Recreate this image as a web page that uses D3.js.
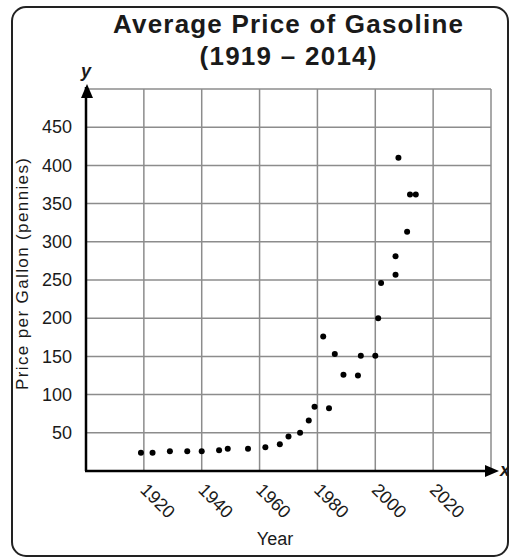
<!DOCTYPE html>
<html>
<head>
<meta charset="utf-8">
<script src="https://cdn.jsdelivr.net/npm/d3@7"></script>
<style>
  body { margin: 0; background: #fff; }
  text { font-family: "Liberation Sans", Arial, sans-serif; fill: #1a1a1a; }
</style>
</head>
<body>
<div id="chart"></div>
<script>
// data
const years = [1919, 1923, 1929, 1935, 1940, 1946, 1949, 1956, 1962, 1967,
    1970, 1974, 1977, 1979, 1982, 1984, 1986, 1989, 1994, 1995,
    2000, 2001, 2002, 2007, 2007, 2008, 2011, 2012, 2014];
const prices = [24, 24, 26, 26, 26, 27, 29, 29, 31, 35,
    45, 50, 66, 84, 176, 82, 153, 126, 125, 151,
    151, 200, 246, 257, 281, 410, 313, 362, 362];
const xTicks = [1920, 1940, 1960, 1980, 2000, 2020];
const yTicks = [50, 100, 150, 200, 250, 300, 350, 400, 450];
const titleLines = ["Average Price of Gasoline", "(1919 \u2013 2014)"];

const W = 509, H = 558;
const margin = { top: 89, right: 18, bottom: 87, left: 86 },
    width = W - margin.left - margin.right,
    height = H - margin.top - margin.bottom;

const root = d3.select("#chart")
    .append("svg")
    .attr("width", W)
    .attr("height", H);

// rounded frame
root.append("rect")
    .attr("x", 12).attr("y", 7)
    .attr("width", 496).attr("height", 549)
    .attr("rx", 14)
    .attr("fill", "none")
    .attr("stroke", "#222")
    .attr("stroke-width", 2);

// title
root.append("text")
    .attr("x", 288).attr("y", 33)
    .attr("text-anchor", "middle")
    .attr("textLength", 350).attr("lengthAdjust", "spacing")
    .style("font-size", "26px").style("font-weight", "bold")
    .text(titleLines[0]);
root.append("text")
    .attr("x", 288).attr("y", 65)
    .attr("text-anchor", "middle")
    .attr("textLength", 177).attr("lengthAdjust", "spacing")
    .style("font-size", "26px").style("font-weight", "bold")
    .text(titleLines[1]);

const svg = root.append("g")
    .attr("transform", `translate(${margin.left},${margin.top})`);

const x = d3.scaleLinear().domain([1900, 2040]).range([0, width]);
const y = d3.scaleLinear().domain([0, 500]).range([height, 0]);

// grid
svg.append("g")
    .selectAll("line")
    .data(d3.range(1920, 2041, 20))
    .enter()
    .append("line")
    .attr("x1", d => x(d)).attr("x2", d => x(d))
    .attr("y1", 0).attr("y2", height)
    .attr("stroke", "#8c8c8c").attr("stroke-width", 1.5);
svg.append("g")
    .selectAll("line")
    .data(d3.range(50, 501, 50))
    .enter()
    .append("line")
    .attr("x1", 0).attr("x2", width)
    .attr("y1", d => y(d)).attr("y2", d => y(d))
    .attr("stroke", "#8c8c8c").attr("stroke-width", 1.5);

// y axis labels
const yAxis = svg.append("g")
    .call(d3.axisLeft(y).tickValues(yTicks).tickSize(0).tickPadding(14));
yAxis.select(".domain").remove();
yAxis.selectAll("text")
    .style("font-size", "18px")
    .style("font-family", "'Liberation Sans', Arial, sans-serif")
    .attr("fill", "#1a1a1a");

// x axis labels, slanted
const xAxis = svg.append("g")
    .attr("transform", `translate(0,${height})`)
    .call(d3.axisBottom(x).tickValues(xTicks).tickSize(0).tickFormat(d3.format("d")));
xAxis.select(".domain").remove();
xAxis.selectAll("text")
    .attr("x", 0).attr("y", 0).attr("dy", null)
    .attr("transform", "translate(-5,20) rotate(45)")
    .style("text-anchor", "start")
    .style("font-size", "18px")
    .style("font-family", "'Liberation Sans', Arial, sans-serif")
    .attr("fill", "#1a1a1a");

// axes with arrows
svg.append("line")
    .attr("x1", 0).attr("x2", 0)
    .attr("y1", height).attr("y2", -2)
    .attr("stroke", "#000").attr("stroke-width", 2.5);
svg.append("path")
    .attr("d", `M0,-5 L-6,9 L6,9 Z`)
    .attr("transform", "translate(1,0)")
    .attr("fill", "#000");
svg.append("line")
    .attr("x1", -1).attr("x2", width + 2)
    .attr("y1", height).attr("y2", height)
    .attr("stroke", "#000").attr("stroke-width", 2.5);
svg.append("path")
    .attr("d", `M${width + 8},${height} L${width - 6},${height - 6} L${width - 6},${height + 6} Z`)
    .attr("fill", "#000");

// axis letters
svg.append("text")
    .attr("x", 0).attr("y", -12)
    .attr("text-anchor", "middle")
    .style("font-size", "18px").style("font-weight", "bold").style("font-style", "italic")
    .text("y");
svg.append("text")
    .attr("x", width + 9).attr("y", height + 5)
    .style("font-size", "18px").style("font-weight", "bold").style("font-style", "italic")
    .text("x");

// axis titles
svg.append("text")
    .attr("x", 275 - margin.left).attr("y", height + 74)
    .attr("text-anchor", "middle")
    .style("font-size", "18px")
    .text("Year");
svg.append("text")
    .attr("transform", "rotate(-90)")
    .attr("x", -(274 - margin.top)).attr("y", -margin.left + 28)
    .attr("text-anchor", "middle")
    .attr("textLength", 232).attr("lengthAdjust", "spacing")
    .style("font-size", "17px")
    .text("Price per Gallon (pennies)");

// points
svg.selectAll("circle.pt")
    .data(years.map((yr, i) => ({ year: yr, price: prices[i] })))
    .enter()
    .append("circle")
    .attr("class", "pt")
    .attr("cx", d => x(d.year))
    .attr("cy", d => y(d.price))
    .attr("r", 3)
    .attr("fill", "#000");
</script>
</body>
</html>
